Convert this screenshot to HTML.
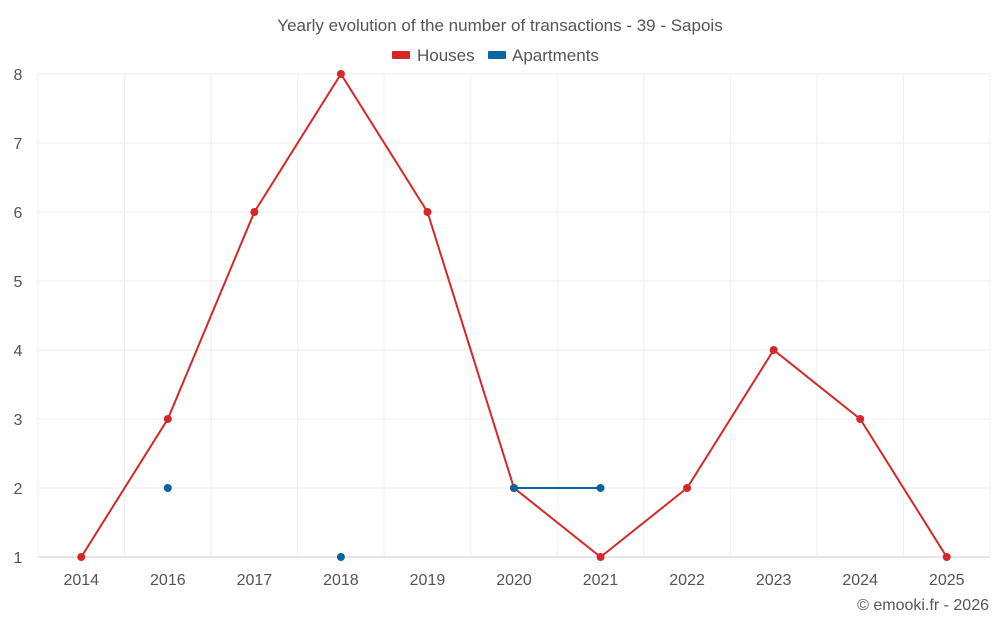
<!DOCTYPE html>
<html><head><meta charset="utf-8"><style>
body{margin:0;background:#fff;font-family:"Liberation Sans",sans-serif;}
svg text{font-family:"Liberation Sans",sans-serif;}
</style></head><body>
<svg id="chart" width="1000" height="625">
<text x="500" y="31" text-anchor="middle" font-size="17" fill="#555">Yearly evolution of the number of transactions - 39 - Sapois</text>
<g>
<g><rect x="392" y="51" width="18" height="8" rx="1" fill="#d62728"/><text x="417" y="61" font-size="17" fill="#555">Houses</text></g>
<g><rect x="488" y="51" width="18" height="8" rx="1" fill="#0a66a0"/><text x="512" y="61" font-size="17" fill="#555">Apartments</text></g>
</g>
<g id="grid"></g><g id="axes"></g><g id="series"></g>
<text x="989" y="610" text-anchor="end" font-size="16" fill="#555">© emooki.fr - 2026</text>
</svg>
<script>
const categories=["2014","2016","2017","2018","2019","2020","2021","2022","2023","2024","2025"];
const houses=[1,3,6,8,6,2,1,2,4,3,1];
const apartments=[null,2,null,1,null,2,2,null,null,null,null];
const yTicks=[1,2,3,4,5,6,7,8];
const NS="http://www.w3.org/2000/svg";
const L=38,R=990,T=74,B=557,yMin=1,yMax=8;
const band=(R-L)/categories.length;
const x=i=>L+band*(i+0.5);
const y=v=>B-(v-yMin)/(yMax-yMin)*(B-T);
function mk(tag,attrs,parent){const e=document.createElementNS(NS,tag);for(const k in attrs)e.setAttribute(k,attrs[k]);document.getElementById(parent).appendChild(e);return e;}
yTicks.forEach(v=>{
 const g=mk("line",{x1:L,x2:R,y1:y(v),y2:y(v),stroke:v===yMin?"#ccc":"#eee","stroke-width":1},"grid");
 
 
 const t=mk("text",{x:L-20,y:y(v)+6,"text-anchor":"middle","font-size":16,fill:"#555"},"axes");
 t.textContent=v;
 
 
});
for(let i=0;i<=categories.length;i++){
 const g=mk("line",{x1:L+band*i,x2:L+band*i,y1:T,y2:B,stroke:"#f0f0f0","stroke-width":1},"grid");
 
 
}
categories.forEach((c,i)=>{
 const t=mk("text",{x:x(i),y:585,"text-anchor":"middle","font-size":16,fill:"#555"},"axes");
 t.textContent=c;
 
 
});
function drawSeries(vals,color,name){
 let segs=[],cur=[];
 vals.forEach((v,i)=>{if(v===null){if(cur.length)segs.push(cur);cur=[];}else cur.push([x(i),y(v)]);});
 if(cur.length)segs.push(cur);
 segs.forEach(s=>{if(s.length>1){
  const p=mk("polyline",{points:s.map(q=>q.join(",")).join(" "),fill:"none",stroke:color,"stroke-width":2},"series");
  
  
 }});
 vals.forEach((v,i)=>{if(v===null)return;
  const c=mk("circle",{cx:x(i),cy:y(v),r:4,fill:color},"series");
  
  
 });
}
drawSeries(houses,"#d62728","houses");
drawSeries(apartments,"#0a66a0","apartments");
</script>
</body></html>
